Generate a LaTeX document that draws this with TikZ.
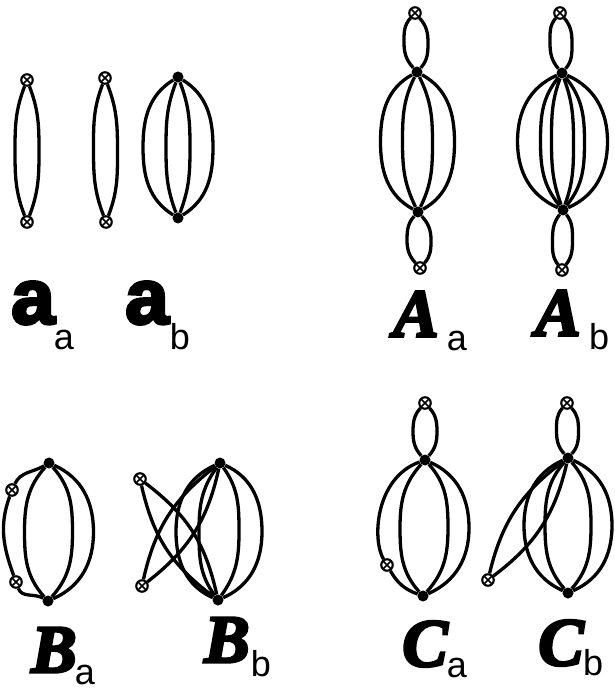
\documentclass[tikz,border=0pt]{standalone}
\usepackage{fontspec}
\usetikzlibrary{backgrounds,calc}
\newfontfamily\heavysans[FakeBold=4]{Liberation Sans Bold}
\newfontfamily\heavyserif[FakeBold=4]{Liberation Serif Bold Italic}
\newfontfamily\subsans{Liberation Sans}
\newcommand\vlens[4]{\pgfmathtruncatemacro\vlo{-90+(#4)}\pgfmathtruncatemacro\vli{90-(#4)}%
  \draw[edge] (#1) to[out=\vlo, in=90] ($(#1)!0.5!(#2)+(#3,0)$) to[out=-90, in=\vli] (#2);}
\newcommand\vpair[4]{\vlens{#1}{#2}{#3}{#4}\vlens{#1}{#2}{-#3}{-#4}}
\begin{document}
\begin{tikzpicture}[x=1pt,y=1pt,
  dot/.style={circle, fill=black, inner sep=0pt, minimum size=11pt},
  xc/.style={circle, draw, fill=white, line width=2.1pt, inner sep=0pt, minimum size=11.5pt,
    path picture={\draw[line width=1.7pt] (path picture bounding box.north west) -- (path picture bounding box.south east)
      (path picture bounding box.north east) -- (path picture bounding box.south west);}},
  edge/.style={line width=3.3pt},
  bigsans/.style={inner sep=0pt, font=\heavysans\fontsize{78}{78}\selectfont},
  bigserif/.style={inner sep=0pt, font=\heavyserif\fontsize{68}{68}\selectfont},
  subl/.style={inner sep=0pt, font=\subsans\fontsize{36}{36}\selectfont}]
\useasboundingbox (0,0) rectangle (614,-692);
% a_a panels
\node[xc] (p1t) at (27,-80) {};
\node[xc] (p1b) at (27,-222) {};
\node[xc] (p2t) at (105,-78) {};
\node[xc] (p2b) at (106,-222) {};
\node[dot] (p3t) at (178,-77) {};
\node[dot] (p3b) at (178,-218) {};
% A_a
\node[xc] (Aax1) at (415,-13) {};
\node[dot] (Aad1) at (417,-72) {};
\node[dot] (Aad2) at (418,-212) {};
\node[xc] (Aax2) at (420,-268) {};
% A_b
\node[xc] (Abx1) at (560,-13) {};
\node[dot] (Abd1) at (562,-73) {};
\node[dot] (Abd2) at (563,-210) {};
\node[xc] (Abx2) at (562,-270) {};
% B_a
\node[dot] (Bad1) at (49,-463) {};
\node[dot] (Bad2) at (48,-601) {};
\node[xc] (Bax1) at (12,-490) {};
\node[xc] (Bax2) at (16,-582) {};
% B_b
\node[dot] (Bbd1) at (220,-463) {};
\node[dot] (Bbd2) at (218,-600) {};
\node[xc] (Bbx1) at (140,-479) {};
\node[xc] (Bbx2) at (142,-586) {};
% C_a
\node[xc] (Cax1) at (425,-403) {};
\node[dot] (Cad1) at (425,-460) {};
\node[dot] (Cad2) at (423,-596) {};
\node[xc] (Cax2) at (387,-565) {};
% C_b
\node[xc] (Cbx1) at (567,-403) {};
\node[dot] (Cbd1) at (568,-458) {};
\node[dot] (Cbd2) at (568,-593) {};
\node[xc] (Cbx2) at (488,-580) {};

\begin{scope}[on background layer]
% a_a
\vpair{p1t}{p1b}{12}{21}
\vpair{p2t}{p2b}{12}{21}
% a_b
\vpair{p3t}{p3b}{35}{58}
\vpair{p3t}{p3b}{12}{21}
% A_a
\vpair{Aax1}{Aad1}{12}{42}
\vpair{Aad1}{Aad2}{37}{61}
\vpair{Aad1}{Aad2}{15}{26}
\vpair{Aad2}{Aax2}{12}{42}
% A_b
\vpair{Abx1}{Abd1}{11}{40}
\vpair{Abd1}{Abd2}{45}{66}
\vpair{Abd1}{Abd2}{22}{39}
\vpair{Abd1}{Abd2}{11}{20}
\vpair{Abd2}{Abx2}{10}{37}
% B_a
\vlens{Bad1}{Bad2}{45}{66}
\vpair{Bad1}{Bad2}{24}{42}
\draw[edge] (Bad1) to[out=210,in=65] (Bax1);
\draw[edge] (Bax1) to[out=250,in=110] (Bax2);
\draw[edge] (Bax2) to[out=-70,in=150] (Bad2);
% B_b
\vpair{Bbd1}{Bbd2}{43}{66}
\vpair{Bbd1}{Bbd2}{20}{36}
\draw[edge] (Bbx1) to[bend left=20,looseness=1.03] (Bbd2);
\draw[edge] (Bbx1) to[bend right=20,looseness=1.03] (Bbd2);
\draw[edge] (Bbx2) to[bend left=20,looseness=1.0] (Bbd1);
\draw[edge] (Bbx2) to[bend right=20,looseness=1.0] (Bbd1);
% C_a
\vpair{Cax1}{Cad1}{12}{42}
\vlens{Cad1}{Cad2}{45}{66}
\vpair{Cad1}{Cad2}{24}{42}
\draw[edge] (Cad1) .. controls (375,-478) and (372,-540) .. (Cax2);
\draw[edge] (Cax2) to[out=-60,in=160] (Cad2);
% C_b
\vpair{Cbx1}{Cbd1}{11}{42}
\vpair{Cbd1}{Cbd2}{44}{66}
\vpair{Cbd1}{Cbd2}{23}{41}
\draw[edge] (Cbx2) to[bend left=20,looseness=1.0] (Cbd1);
\draw[edge] (Cbx2) to[bend right=20,looseness=1.0] (Cbd1);
\end{scope}

% labels
\node[bigsans] (La1) at (33,-303) {a};
\node[subl] (La1s) at (64,-340) {a};
\node[bigsans] (La2) at (147,-303) {a};
\node[subl] (La2s) at (180,-337) {b};
\node[bigserif] (LA1) at (416,-314) {A};
\node[subl] (LA1s) at (457,-341) {a};
\node[bigserif] (LA2) at (558,-313) {A};
\node[subl] (LA2s) at (599,-337) {b};
\node[bigserif] (LB1) at (54,-650) {B};
\node[subl] (LB1s) at (85,-675) {a};
\node[bigserif] (LB2) at (227,-640) {B};
\node[subl] (LB2s) at (261,-664) {b};
\node[bigserif] (LC1) at (425,-644) {C};
\node[subl] (LC1s) at (457,-668) {a};
\node[bigserif] (LC2) at (561,-643) {C};
\node[subl] (LC2s) at (593,-663) {b};
\end{tikzpicture}
\end{document}
